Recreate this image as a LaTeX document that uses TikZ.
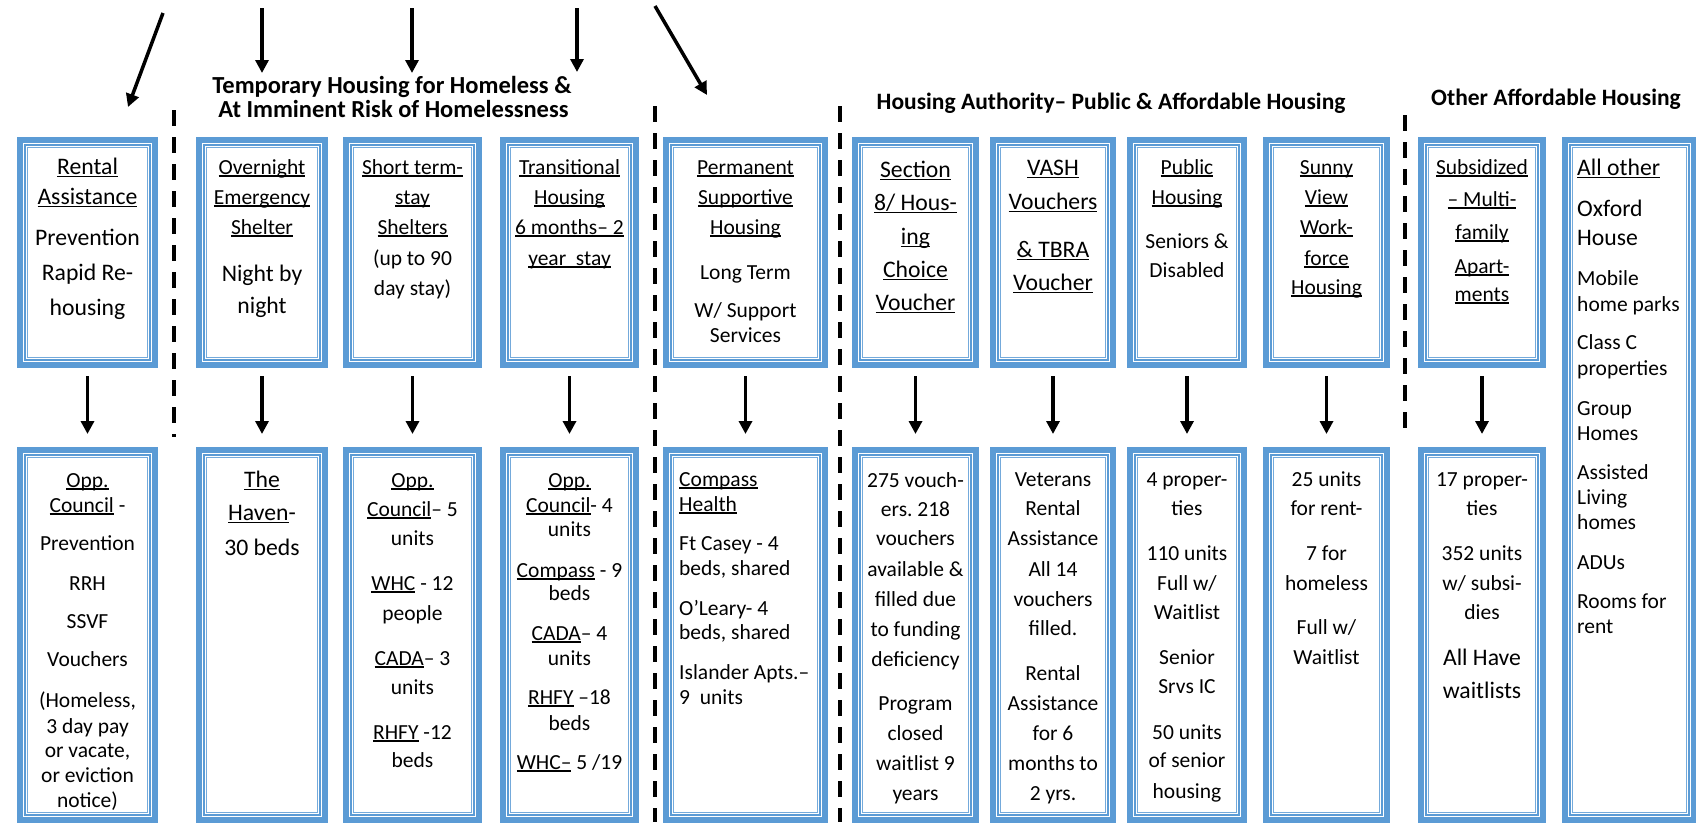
\documentclass[tikz,border=0pt]{standalone}
\usepackage{fontspec}
\setmainfont{Carlito}
\usetikzlibrary{arrows.meta}
\definecolor{blu}{RGB}{91,155,213}
\frenchspacing
\newcommand\fS{\fontsize{21.5}{26}\selectfont}
\newcommand\fL{\fontsize{23.7}{28}\selectfont}
\newcommand\fH{\bfseries\fontsize{23.5}{28}\selectfont}
\newcommand\fT{\bfseries\fontsize{24.5}{29}\selectfont}
\newcommand\undl[1]{\leavevmode\setbox0=\hbox{#1}\rlap{\rule[-0.12em]{\wd0}{0.055em}}\box0\relax}
\tikzset{
 frame/.style={draw=blu, line width=6pt, rectangle, inner sep=0pt, outer sep=0pt},
 inner1/.style={draw=blu, line width=1.5pt},
 inner2/.style={draw=blu!85, line width=0.8pt},
 txt/.style={anchor=base, inner sep=0pt, font=\fS},
 txtl/.style={anchor=base west, inner sep=0pt, font=\fS},
 hdr/.style={anchor=base, inner sep=0pt, font=\fH},
 arr/.style={line width=3.5pt, -{Triangle[length=13pt,width=13pt]}},
 dashline/.style={line width=3.5pt, dash pattern=on 16pt off 11pt},
}
\newcommand\frm[5]{%
  \node[frame, minimum width={#4-#2-6}, minimum height={#5-#3-6}] (#1) at ({(#2+#4)/2},{(#3+#5)/2}) {};
  \draw[inner1] ([shift={(5.2pt,-5.2pt)}]#1.north west) rectangle ([shift={(-5.2pt,5.2pt)}]#1.south east);
  \draw[inner2] ([shift={(7.6pt,-7.6pt)}]#1.north west) rectangle ([shift={(-7.6pt,7.6pt)}]#1.south east);
}
\newcommand\lines[4]{%
  \foreach \yy/\tx [count=\i] in {#4} {\node[#3] (#1-\i) at (#2,\yy) {\tx};}
}
\begin{document}
\begin{tikzpicture}[x=1pt,y=-1pt]
\path[use as bounding box] (0,0) rectangle (1696,822);
\clip (0,0) rectangle (1696,822);
\fill[white] (0,0) rectangle (1696,822);

% frames top row
\frm{t1}{17}{137}{158}{368}
\frm{t2}{196}{137}{328}{368}
\frm{t3}{343}{137}{482}{368}
\frm{t4}{500}{137}{639}{368}
\frm{t5}{663}{137}{828}{368}
\frm{t6}{852}{137}{979}{368}
\frm{t7}{990}{137}{1116}{368}
\frm{t8}{1127}{137}{1247}{368}
\frm{t9}{1263}{137}{1390}{368}
\frm{t10}{1418}{137}{1546}{368}
\frm{t11}{1562}{137}{1697}{823}
% frames bottom row
\frm{b1}{17}{447}{158}{823}
\frm{b2}{196}{447}{328}{823}
\frm{b3}{343}{447}{482}{823}
\frm{b4}{500}{447}{639}{823}
\frm{b5}{663}{447}{828}{823}
\frm{b6}{852}{447}{979}{823}
\frm{b7}{990}{447}{1116}{823}
\frm{b8}{1127}{447}{1247}{823}
\frm{b9}{1263}{447}{1390}{823}
\frm{b10}{1418}{447}{1546}{823}

% headers
\node[hdr, font=\fT] (h1a) at (392,93) {Temporary Housing for Homeless \&};
\node[hdr, font=\fT] (h1b) at (393.5,117) {At Imminent Risk of Homelessness};
\node[hdr] (h2) at (1111,109) {Housing Authority– Public \& Affordable Housing};
\node[hdr] (h3) at (1556,105) {Other Affordable Housing};

% dashed separators
\coordinate (d1a) at (174,110); \coordinate (d1b) at (174,437);
\coordinate (d2a) at (655,106); \coordinate (d2b) at (655,822);
\coordinate (d3a) at (840,106); \coordinate (d3b) at (840,822);
\coordinate (d4a) at (1405,115); \coordinate (d4b) at (1405,437);
\draw[dashline] (d1a) -- (d1b);
\draw[dashline] (d2a) -- (d2b);
\draw[dashline] (d3a) -- (d3b);
\draw[dashline] (d4a) -- (d4b);

% incoming arrows at top
\coordinate (a1s) at (163,13); \coordinate (a1e) at (128,107);
\coordinate (a2s) at (262,8); \coordinate (a2e) at (262,73);
\coordinate (a3s) at (412,8); \coordinate (a3e) at (412,73);
\coordinate (a4s) at (577,8); \coordinate (a4e) at (577,72);
\coordinate (a5s) at (655,6); \coordinate (a5e) at (707,95);
\draw[arr] (a1s) -- (a1e);
\draw[arr] (a2s) -- (a2e);
\draw[arr] (a3s) -- (a3e);
\draw[arr] (a4s) -- (a4e);
\draw[arr] (a5s) -- (a5e);

% arrows between rows
\foreach \k in {1,...,10} {\draw[arr, shorten <=11pt, shorten >=16pt] (t\k.south) -- (b\k.north);}

% top texts
\lines{t1x}{87.5}{txt,font=\fL}{174/\undl{Rental}, 204/\undl{Assistance}, 245/Prevention, 280/Rapid Re-, 315/housing}
\lines{t2x}{262}{txt}{174/\undl{Overnight}, 204/\undl{Emergency}, 234/\undl{Shelter}, 281/{\fL Night by}, 313/{\fL night}}
\lines{t3x}{412.5}{txt}{174/\undl{Short term-}, 204/\undl{stay}, 234/\undl{Shelters}, 265/(up to 90, 295/day stay)}
\lines{t4x}{569.5}{txt}{174/\undl{Transitional}, 204/\undl{Housing}, 234/\undl{6 months– 2}, 265/\undl{year\ \ stay}}
\lines{t5x}{745.5}{txt}{174/\undl{Permanent}, 204/\undl{Supportive}, 234/\undl{Housing}, 279/Long Term, 317/{W/ Support}, 342/Services}
\lines{t6x}{915.5}{txt,font=\fL}{177/\undl{Section}, 210/{\undl{8/ Hous-}}, 244/\undl{ing}, 277/\undl{Choice}, 310/\undl{Voucher}}
\lines{t7x}{1053}{txt,font=\fL}{175/\undl{VASH}, 209/\undl{Vouchers}, 257/\undl{\& TBRA}, 290/\undl{Voucher}}
\lines{t8x}{1187}{txt}{174/\undl{Public}, 204/\undl{Housing}, 248/Seniors \&, 277/Disabled}
\lines{t9x}{1326.5}{txt}{174/\undl{Sunny}, 204/\undl{View}, 234/\undl{Work-}, 265/\undl{force}, 294/\undl{Housing}}
\lines{t10x}{1482}{txt}{174/\undl{Subsidized}, 206/\undl{– Multi-}, 239/\undl{family}, 273/\undl{Apart-}, 301/\undl{ments}}
\lines{t11x}{1577}{txtl}{175/{\fL\undl{All other}}, 216/{\fL Oxford}, 245/{\fL House}, 285/Mobile, 311/home parks, 349/Class C, 375/properties, 415/Group, 440/Homes, 479/Assisted, 504/Living, 529/homes, 569/ADUs, 608/Rooms for, 633/rent}

% bottom texts
\lines{b1x}{87.5}{txt}{487/\undl{Opp.}, 512/{\undl{Council} -}, 550/Prevention, 590/RRH, 628/SSVF, 666/Vouchers, 707/{(Homeless,}, 733/3 day pay, 757/{or vacate,}, 782/or eviction, 807/notice)}
\lines{b2x}{262}{txt,font=\fL}{487/\undl{The}, 520/{\undl{Haven}-}, 555/30 beds}
\lines{b3x}{412.5}{txt}{487/\undl{Opp.}, 516/{\undl{Council}– 5}, 545/units, 590/{\undl{WHC} - 12}, 620/people, 665/{\undl{CADA}– 3}, 694/units, 739/{\undl{RHFY} -12}, 767/beds}
\lines{b4x}{569.5}{txt}{487/\undl{Opp.}, 512/{\undl{Council}- 4}, 536/units, 577/{\undl{Compass} - 9}, 600/beds, 640/{\undl{CADA}– 4}, 665/units, 704/{\undl{RHFY} –18}, 730/beds, 769/{\undl{WHC–} 5 /19}}
\lines{b5x}{679}{txtl}{486/\undl{Compass}, 511/\undl{Health}, 550/Ft Casey - 4, 575/{beds, shared}, 615/O’Leary- 4, 639/{beds, shared}, 679/Islander Apts.–, 704/9\ \ units}
\lines{b6x}{915.5}{txt}{487/275 vouch-, 516/ers. 218, 545/vouchers, 576/available \&, 606/filled due, 636/to funding, 666/deficiency, 710/Program, 740/closed, 770/waitlist 9, 800/years}
\lines{b7x}{1053}{txt}{486/Veterans, 515/Rental, 545/Assistance, 576/All 14, 606/vouchers, 635/filled., 680/Rental, 710/Assistance, 740/for 6, 770/months to, 800/2 yrs.}
\lines{b8x}{1187}{txt}{486/4 proper-, 515/ties, 560/110 units, 590/{Full w/}, 619/Waitlist, 664/Senior, 693/Srvs IC, 739/50 units, 767/of senior, 798/housing}
\lines{b9x}{1326.5}{txt}{486/25 units, 515/for rent-, 560/7 for, 590/homeless, 634/{Full w/}, 664/Waitlist}
\lines{b10x}{1482}{txt}{486/17 proper-, 515/ties, 560/352 units, 590/{w/ subsi-}, 619/dies, 665/{\fL All Have}, 698/{\fL waitlists}}
\end{tikzpicture}
\end{document}
